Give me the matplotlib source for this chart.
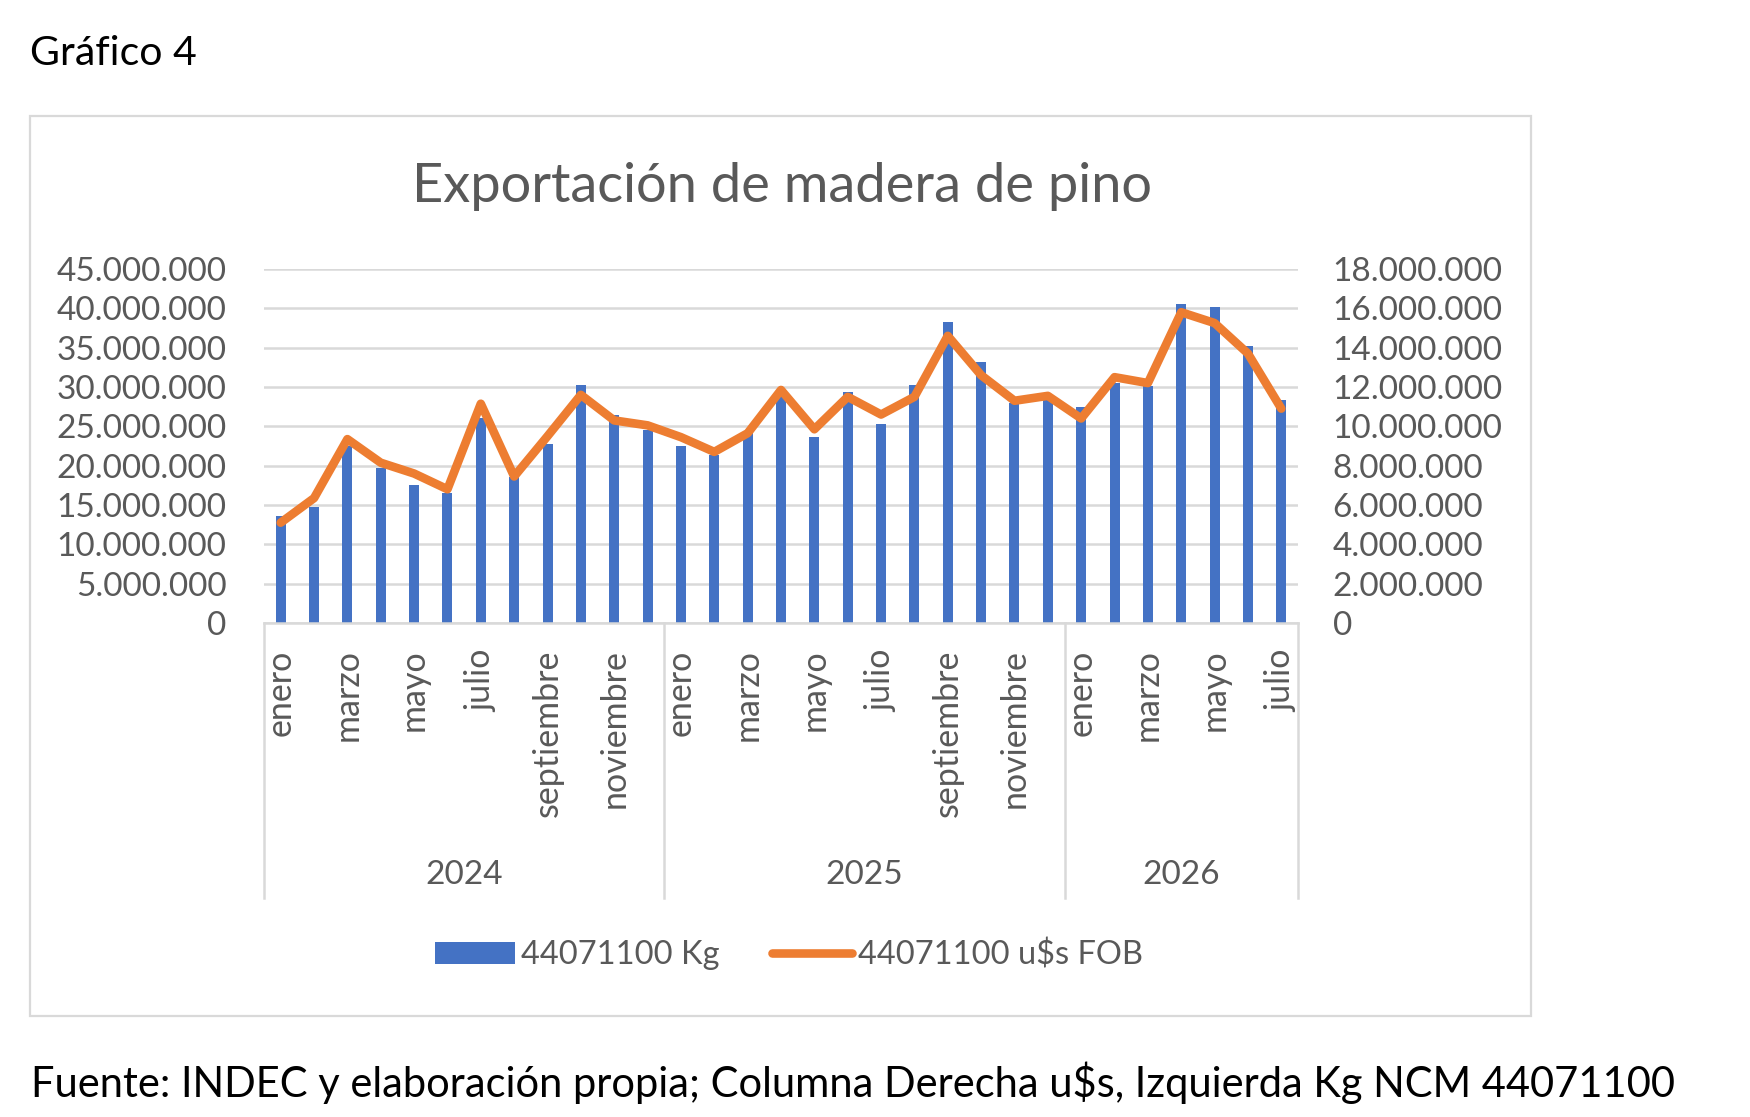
import matplotlib
matplotlib.use('Agg')
import matplotlib.pyplot as plt
from matplotlib.patches import Rectangle, Patch
from matplotlib.lines import Line2D
from matplotlib.ticker import FuncFormatter, MultipleLocator
import matplotlib.transforms as mtransforms

# data (monthly, ene 2024 .. jul 2026)
meses = ['enero', 'febrero', 'marzo', 'abril', 'mayo', 'junio', 'julio', 'agosto',
         'septiembre', 'octubre', 'noviembre', 'diciembre']
anios = ['2024', '2025', '2026']
meses_por_anio = [12, 12, 7]

kg = [13.6, 14.7, 22.5, 19.7, 17.5, 16.5, 26.0, 18.5, 22.8, 30.3, 26.5, 24.5,
      22.5, 21.4, 24.4, 28.8, 23.6, 29.4, 25.3, 30.2, 38.2, 33.2, 28.0, 28.4,
      27.5, 30.5, 30.1, 40.5, 40.2, 35.2, 28.4]
usd_fob = [5.1, 6.35, 9.35, 8.15, 7.6, 6.8, 11.15, 7.45, 9.5, 11.6, 10.3, 10.05,
           9.45, 8.7, 9.65, 11.85, 9.85, 11.5, 10.6, 11.5, 14.6, 12.6, 11.3, 11.55,
           10.4, 12.5, 12.2, 15.8, 15.25, 13.7, 10.9]

kg = [v * 1e6 for v in kg]
usd_fob = [v * 1e6 for v in usd_fob]

W, H = 1750, 1117
DPI = 100
BLUE = '#4472C4'
ORANGE = '#ED7D31'
GRAY_TXT = '#595959'
GRAY_LN = '#D9D9D9'
TICK_FS = 24

plt.rcParams['font.family'] = ['Lato', 'DejaVu Sans']


def fx(px):
    return px / W


def fy(py):
    return 1 - py / H


def miles(v, pos):
    return f'{int(round(v)):,}'.replace(',', '.')


fig = plt.figure(figsize=(W / DPI, H / DPI), dpi=DPI)

# chart frame
fig.patches.append(Rectangle((fx(30), fy(1016)), fx(1531) - fx(30), fy(116) - fy(1016),
                             transform=fig.transFigure, fill=False,
                             edgecolor=GRAY_LN, linewidth=1.6))

ax_left, ax_right, ax_top, ax_bot = 264, 1298, 269, 623
ax = fig.add_axes([fx(ax_left), fy(ax_bot), fx(ax_right) - fx(ax_left), fy(ax_top) - fy(ax_bot)])

etiquetas = []
for n in meses_por_anio:
    etiquetas += meses[:n]
x = list(range(len(kg)))

ax.bar(x, kg, width=0.3, color=BLUE, zorder=2)
ax.set_xlim(-0.5, len(kg) - 0.5)
ax.set_ylim(0, 45e6)
ax.yaxis.set_major_locator(MultipleLocator(5e6))
ax.yaxis.set_major_formatter(FuncFormatter(miles))
ax.set_axisbelow(True)
ax.grid(axis='y', color=GRAY_LN, linewidth=1.8)
for s in ['top', 'right', 'left']:
    ax.spines[s].set_visible(False)
ax.spines['bottom'].set_color(GRAY_LN)
ax.spines['bottom'].set_linewidth(1.8)

ax.set_xticks(x[::2])
ax.set_xticklabels(etiquetas[::2], rotation=90, va='top', ha='center')
ax.tick_params(axis='x', length=0, pad=19, labelsize=24.5, labelcolor=GRAY_TXT)
ax.tick_params(axis='y', length=0, pad=27, labelsize=TICK_FS, labelcolor=GRAY_TXT)

ax2 = ax.twinx()
ax2.plot(x, usd_fob, color=ORANGE, linewidth=6.2, solid_joinstyle='round',
         solid_capstyle='round', zorder=3)
ax2.set_ylim(0, 18e6)
ax2.yaxis.set_major_locator(MultipleLocator(2e6))
ax2.yaxis.set_major_formatter(FuncFormatter(miles))
for s in ['top', 'right', 'left', 'bottom']:
    ax2.spines[s].set_visible(False)
ax2.tick_params(axis='y', length=0, pad=25, labelsize=TICK_FS, labelcolor=GRAY_TXT)

# year groups under the month labels
trans = mtransforms.blended_transform_factory(ax.transData, ax.transAxes)
sep_bottom = (ax_bot - 898) / (ax_bot - ax_top)
year_y = (ax_bot - 875) / (ax_bot - ax_top)
inicio = -0.5
for anio, n in zip(anios, meses_por_anio):
    fin = inicio + n
    ax.plot([inicio, inicio], [0, sep_bottom], transform=trans, color=GRAY_LN,
            linewidth=1.8, clip_on=False)
    ax.text((inicio + fin) / 2, year_y, anio, transform=trans, ha='center', va='center',
            fontsize=TICK_FS, color=GRAY_TXT)
    inicio = fin
ax.plot([inicio, inicio], [0, sep_bottom], transform=trans, color=GRAY_LN,
        linewidth=1.8, clip_on=False)

# legend
handles = [Patch(facecolor=BLUE, edgecolor='none', label='44071100 Kg'),
           Line2D([0], [0], color=ORANGE, linewidth=6.2, solid_capstyle='round',
                  label='44071100 u$s FOB')]
fig.legend(handles=handles, loc='center', bbox_to_anchor=(fx(789), fy(955)), ncol=2,
           frameon=False, fontsize=23.5, labelcolor=GRAY_TXT, handlelength=2.45,
           handleheight=0.68, handletextpad=0.2, columnspacing=1.6)

fig.text(fx(782), fy(202), 'Exportación de madera de pino', ha='center', va='baseline',
         fontsize=39, color=GRAY_TXT)
fig.text(fx(30), fy(65), 'Gráfico 4', ha='left', va='baseline', fontsize=29.5, color='black')
fig.text(fx(31), fy(1097),
         'Fuente: INDEC y elaboración propia; Columna Derecha u$s, Izquierda Kg NCM 44071100',
         ha='left', va='baseline', fontsize=30, color='black')

fig.savefig('out.png', dpi=DPI, facecolor='white')
